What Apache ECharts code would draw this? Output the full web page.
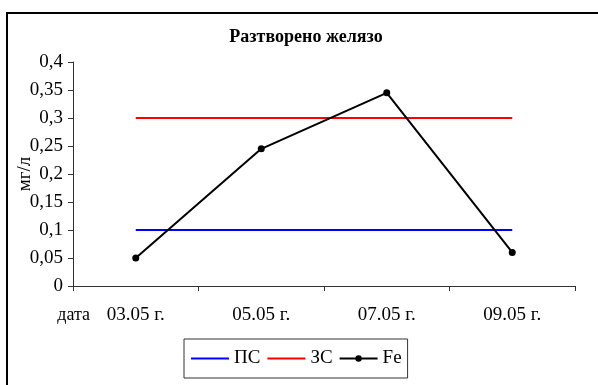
<!DOCTYPE html>
<html><head><meta charset="utf-8">
<script src="https://cdn.jsdelivr.net/npm/echarts@6/dist/echarts.min.js"></script>
<style>html,body{margin:0;padding:0;background:#fff}#c{width:598px;height:385px}</style>
</head><body><div id="c"></div>
<script>
var title = 'Разтворено желязо';
var yName = 'мг/л';
var xName = 'дата';
var categories = ['03.05 г.', '05.05 г.', '07.05 г.', '09.05 г.'];
var psValues = [0.1, 0.1, 0.1, 0.1];
var zsValues = [0.3, 0.3, 0.3, 0.3];
var feValues = [0.05, 0.245, 0.345, 0.06];
var yTicks = {min: 0, max: 0.4, interval: 0.05};

var font = '"Liberation Serif", "DejaVu Serif", serif';
var chart = echarts.init(document.getElementById('c'), null, {renderer: 'canvas'});
chart.setOption({
  animation: false,
  backgroundColor: '#fff',
  title: {
    text: title, left: 301, top: 23, textAlign: 'center',
    textStyle: {fontFamily: font, fontWeight: 'bold', fontSize: 18, color: '#000'}
  },
  grid: {left: 73, right: 23, top: 62, bottom: 99, containLabel: false, outerBoundsMode: 'none'},
  legend: {
    left: 184, top: 339,
    padding: [10, 6, 10, 6],
    itemGap: 6, itemWidth: 38, itemHeight: 8,
    borderColor: '#333', borderWidth: 1,
    textStyle: {fontFamily: font, fontSize: 19, color: '#000'},
    data: [
      {name: 'ПС', itemStyle: {opacity: 0}},
      {name: 'ЗС', itemStyle: {opacity: 0}},
      {name: 'Fe'}
    ]
  },
  xAxis: {
    type: 'category', data: categories, boundaryGap: true,
    name: xName, nameLocation: 'start', nameGap: -17, nameMoveOverlap: false,
    nameTextStyle: {fontFamily: font, fontSize: 18, color: '#000', verticalAlign: 'top', padding: [20, 0, 0, 0]},
    axisLine: {lineStyle: {color: '#333', width: 1}},
    axisTick: {show: true, length: 5, inside: false, lineStyle: {color: '#333'}},
    axisLabel: {fontFamily: font, fontSize: 19, color: '#000', margin: 20},
    splitLine: {show: false}
  },
  yAxis: {
    type: 'value', min: yTicks.min, max: yTicks.max, interval: yTicks.interval,
    name: yName, nameLocation: 'middle', nameGap: 38, nameRotate: 90, nameMoveOverlap: false,
    nameTextStyle: {fontFamily: font, fontSize: 19, color: '#000'},
    axisLine: {show: true, lineStyle: {color: '#333', width: 1}},
    axisTick: {show: true, length: 5, lineStyle: {color: '#333'}},
    axisLabel: {fontFamily: font, fontSize: 19, color: '#000', margin: 10,
      formatter: function (v) { return String(Math.round(v * 100) / 100).replace('.', ','); }},
    splitLine: {show: false}
  },
  series: [
    {name: 'ПС', type: 'line', data: psValues, symbol: 'none', color: '#0000ff',
      lineStyle: {color: '#0000ff', width: 2}},
    {name: 'ЗС', type: 'line', data: zsValues, symbol: 'none', color: '#ff0000',
      lineStyle: {color: '#ff0000', width: 2}},
    {name: 'Fe', type: 'line', data: feValues, symbol: 'circle', symbolSize: 7, color: '#000',
      itemStyle: {color: '#000'}, lineStyle: {color: '#000', width: 2}}
  ],
  graphic: [
    {type: 'line', shape: {x1: 6, y1: 13, x2: 598, y2: 13}, style: {stroke: '#000', lineWidth: 2}},
    {type: 'line', shape: {x1: 7, y1: 12, x2: 7, y2: 385}, style: {stroke: '#000', lineWidth: 2}}
  ]
});
</script></body></html>
